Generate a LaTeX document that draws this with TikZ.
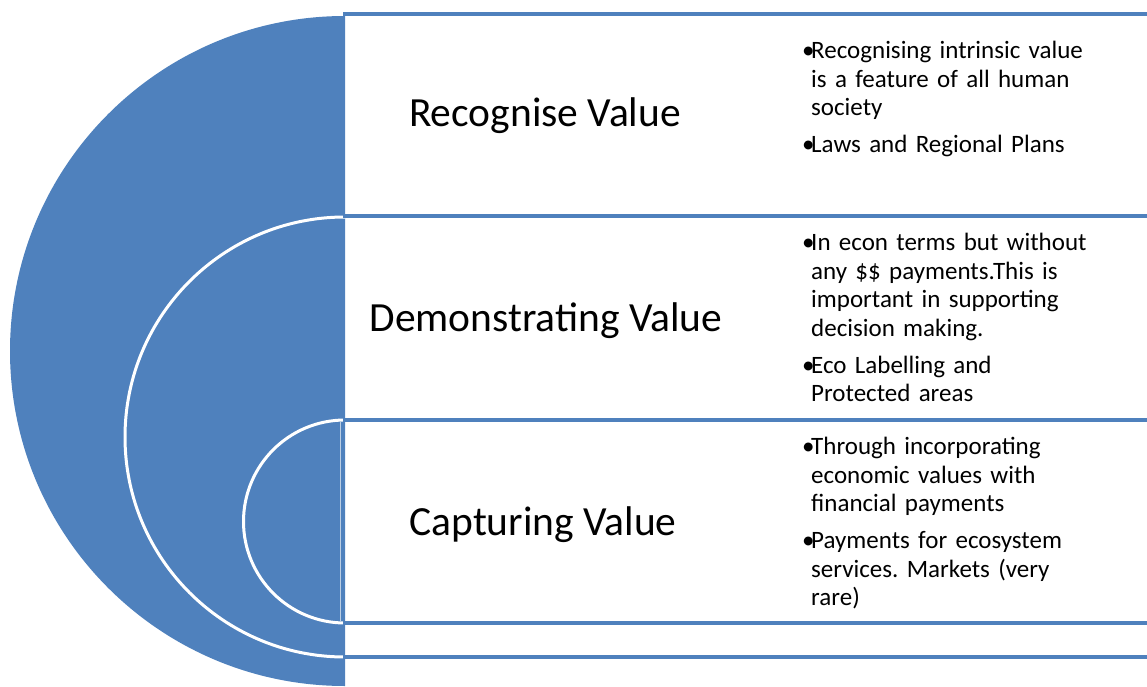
\documentclass[tikz,border=0pt]{standalone}
\usepackage{fontspec}
\setmainfont{Carlito}
\usepackage{tikz}

\definecolor{valueblue}{RGB}{79,129,189}
\newcommand{\bul}[1]{\par\hangindent=9pt\hangafter=1\noindent\makebox[9pt][l]{\textbullet}#1\par}
\frenchspacing

\begin{document}
\begin{tikzpicture}[x=1pt, y=-1pt,
    title/.style={font=\fontsize{41.5}{45}\selectfont, inner sep=0pt},
    notes/.style={anchor=north west, inner sep=0pt, text width=340pt, align=left,
      font=\fontsize{25}{28.5}\selectfont}]
    \useasboundingbox (0,0) rectangle (1147,687);

    % draw half discs
    \begin{scope}
      \clip (0,0) rectangle (345,687);
      \fill[valueblue] (345,351) circle[radius=335pt];
      \draw[white, line width=3pt] (345,437) circle[radius=220pt];
      \draw[white, line width=3pt] (345,521.5) circle[radius=101.5pt];
    \end{scope}
    \draw[white!60!valueblue, line width=0.8pt] (340,421) -- (340,622);

    % draw horizontal lines
    \foreach \y in {14,216,420,623,657}
      \draw[valueblue, line width=4pt] (343,\y) -- (1147,\y);

    % draw nodes
    \node[title] (recog) at (545,116) {Recognise Value};
    \node[title] (demo) at (546,321) {Demonstrating Value};
    \node[title] (capt) at (543,525) {Capturing Value};

    \node[notes] (recognotes) at (802,30) {%
      \bul{Recognising intrinsic value\newline is a feature of all human\newline society}\vspace{8.5pt}%
      \bul{Laws and Regional Plans}};
    \node[notes] (demonotes) at (802,222) {%
      \bul{In econ terms but without\newline any \$\$ payments.This is\newline important in supporting\newline decision making.}\vspace{8.5pt}%
      \bul{Eco Labelling and\newline Protected areas}};
    \node[notes] (captnotes) at (802,426) {%
      \bul{Through incorporating\newline economic values with\newline financial payments}\vspace{8.5pt}%
      \bul{Payments for ecosystem\newline services. Markets (very\newline rare)}};
\end{tikzpicture}
\end{document}
